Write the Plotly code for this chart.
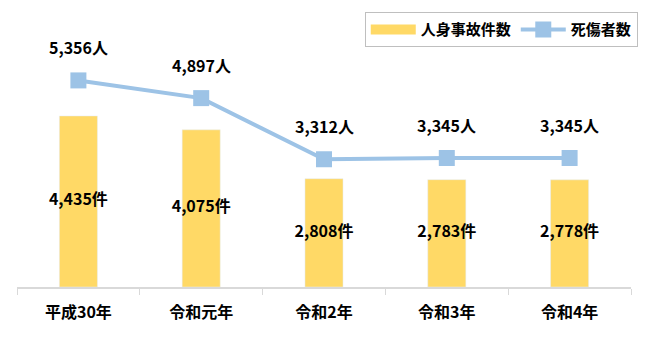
import plotly.graph_objects as go

categories = ["平成30年", "令和元年", "令和2年", "令和3年", "令和4年"]
accidents = [4435, 4075, 2808, 2783, 2778]
casualties = [5356, 4897, 3312, 3345, 3345]
accident_labels = ["4,435件", "4,075件", "2,808件", "2,783件", "2,778件"]
casualty_labels = ["5,356人", "4,897人", "3,312人", "3,345人", "3,345人"]

FONT = "Noto Sans CJK JP"
BAR_COLOR = "#FFD966"
LINE_COLOR = "#9DC3E6"

fig = go.Figure()
fig.add_trace(go.Bar(
    x=categories, y=accidents, name="人身事故件数",
    marker=dict(color=BAR_COLOR), width=0.31, hoverinfo="skip",
    showlegend=False,
))
# legend proxy (wide rectangle swatch like the original)
fig.add_trace(go.Scatter(
    x=[None], y=[None], name="人身事故件数", mode="lines",
    line=dict(color=BAR_COLOR, width=10), hoverinfo="skip",
))
fig.add_trace(go.Scatter(
    x=categories, y=casualties, name="死傷者数", mode="lines+markers",
    line=dict(color=LINE_COLOR, width=4),
    marker=dict(symbol="square", size=16, color=LINE_COLOR),
))
fig.add_trace(go.Scatter(
    x=categories, y=[v / 2 for v in accidents], mode="text",
    text=accident_labels, textposition="middle center",
    textfont=dict(family=FONT, size=16, color="#000000", weight="bold"),
    showlegend=False, hoverinfo="skip",
))
for c, v, t in zip(categories, casualties, casualty_labels):
    fig.add_annotation(x=c, y=v, text=t, showarrow=False, yshift=33,
                       font=dict(family=FONT, size=16, color="#000000", weight="bold"))

fig.update_layout(
    width=650, height=340,
    margin=dict(l=17, r=19, t=15, b=53),
    paper_bgcolor="white", plot_bgcolor="white",
    bargap=0.69,
    font=dict(family=FONT, size=14, color="#000000"),
    showlegend=True,
    legend=dict(
        orientation="h", x=1.011, xanchor="right", y=1.018, yanchor="top",
        bordercolor="#BFBFBF", borderwidth=1, bgcolor="white",
        font=dict(family=FONT, size=15, color="#000000", weight="bold"),
        itemwidth=45, tracegroupgap=0,
    ),
    xaxis=dict(
        showline=True, linecolor="#D9D9D9", linewidth=1.5,
        ticks="outside", tickson="boundaries", ticklen=6, tickcolor="#D9D9D9",
        tickfont=dict(family=FONT, size=16, color="#000000", weight="bold"),
        ticklabelstandoff=10, showgrid=False,
    ),
    yaxis=dict(range=[0, 7000], visible=False, showgrid=False),
)

fig.write_html("out.html")
